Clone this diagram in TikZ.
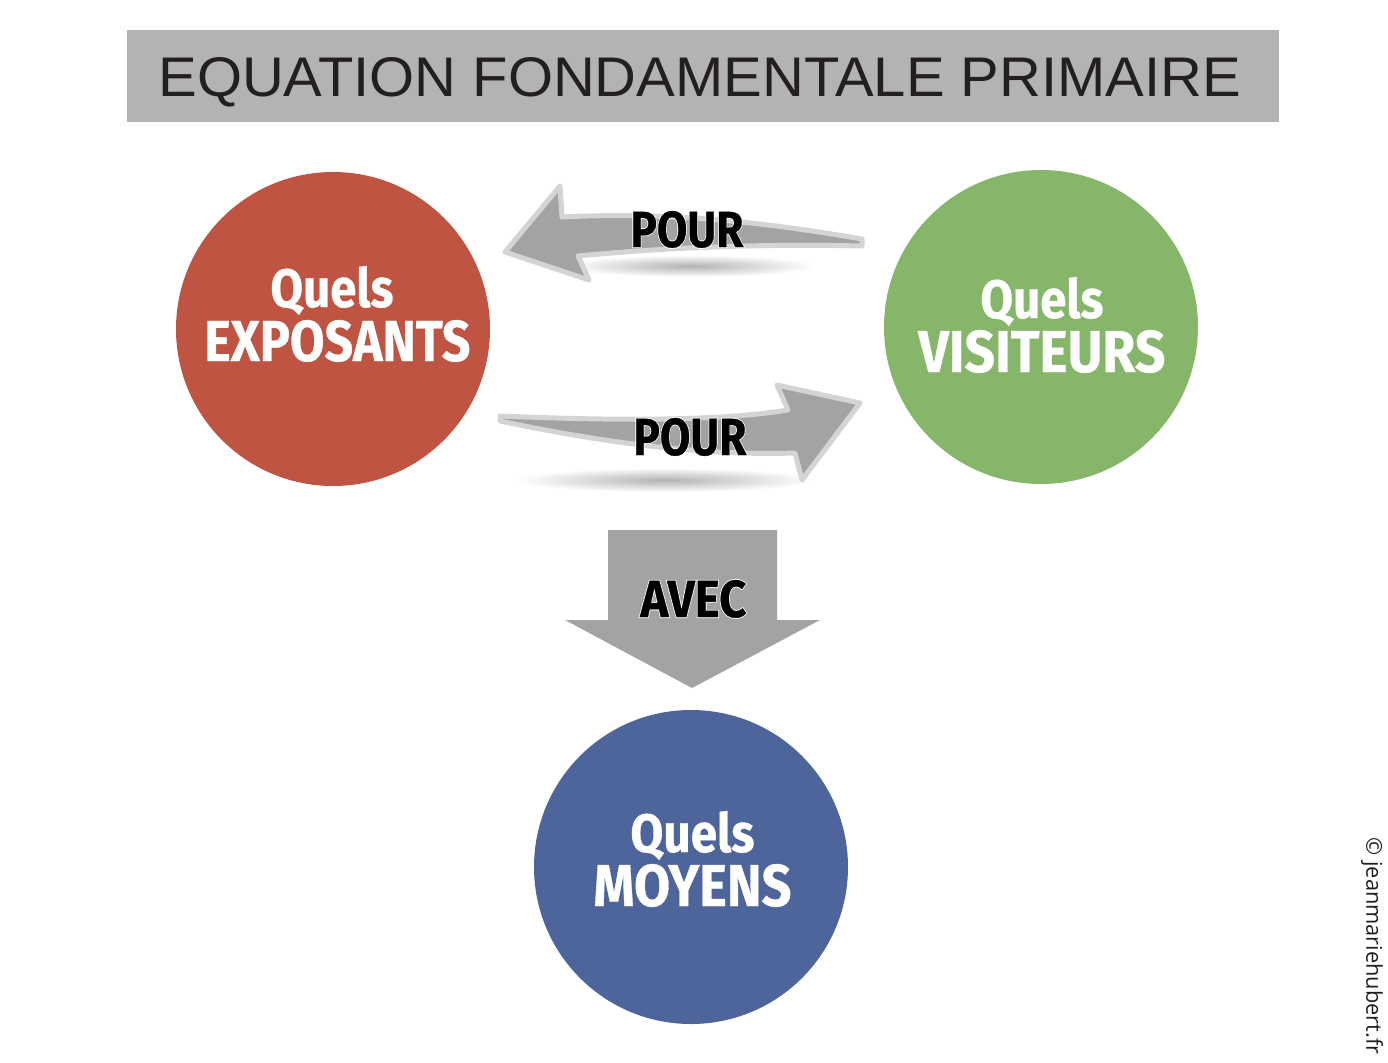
\documentclass[tikz,border=0pt]{standalone}
\usepackage{fontspec}
\setmainfont{Fira Sans}
\newfontfamily\titlefont{Liberation Sans}
\newfontfamily\copyfont{Open Sans}
\newfontfamily\labelfont{Fira Sans Bold}[FakeBold=0.6]
\newfontfamily\haloFont{Fira Sans Bold}[FakeBold=4]
\usepackage{graphicx}
\definecolor{redc}{RGB}{192,84,66}
\definecolor{greenc}{RGB}{133,182,105}
\definecolor{bluec}{RGB}{78,101,155}
\definecolor{titlebg}{RGB}{179,179,179}
\definecolor{arrowfill}{RGB}{163,163,163}
\definecolor{arrowedge}{RGB}{212,212,212}
\definecolor{darktext}{RGB}{35,31,32}
\newcommand{\lbltext}[3]{\resizebox{#1}{#2}{#3}}
\begin{document}
\begin{tikzpicture}[x=0.5pt,y=-0.5pt,
  bubble/.style={circle,minimum size=157pt,inner sep=0pt},
  wtext/.style={inner sep=0pt,anchor=base west,text=white,font=\labelfont},
  ltext/.style={inner sep=0pt,anchor=base west,text=black,font=\labelfont},
  halo/.style={inner sep=0pt,anchor=base west,text=white,font=\haloFont},
  curvearrow/.style={fill=arrowfill,draw=arrowedge,line width=2.5pt,line join=round},
  avecarrow/.style={fill=arrowfill}]
\useasboundingbox (0,0) rectangle (1388,1062);
\fill[white] (0,0) rectangle (1388,1062);
% title
\node[fill=titlebg,minimum width=576pt,minimum height=46pt,inner sep=0pt,anchor=north west] (titlebox) at (127,30) {};
\node[inner sep=0pt,anchor=base west,text=darktext] (title) at (158,96) {\resizebox{541pt}{19.5pt}{\titlefont EQUATION FONDAMENTALE PRIMAIRE}};
% circles
\node[bubble,fill=redc] (expo) at (333,329) {};
\node[bubble,fill=greenc] (visi) at (1041,327) {};
\node[bubble,fill=bluec] (moy) at (691,867) {};
% circle texts
\node[wtext] (q1) at (270,307) {\lbltext{61.5pt}{20.5pt}{Quels}};
\node[wtext] (t1) at (204,361) {\lbltext{133pt}{20.5pt}{EXPOSANTS}};
\node[wtext] (q2) at (980,318) {\lbltext{61.5pt}{20.5pt}{Quels}};
\node[wtext] (t2) at (918,372) {\lbltext{123.5pt}{21pt}{VISITEURS}};
\node[wtext] (q3) at (630,852) {\lbltext{62pt}{20.5pt}{Quels}};
\node[wtext] (t3) at (593,906) {\lbltext{99pt}{21pt}{MOYENS}};
% shadows
\shade[inner color=black!30,outer color=white] (690,266) ellipse (125 and 11);
\shade[inner color=black!30,outer color=white] (665,480) ellipse (150 and 12);
% top arrow (to the left)
\draw[curvearrow] (862,239) .. controls (780,225) and (680,211) .. (562,217)
  -- (560,186) -- (505,252) -- (589,280) -- (578,256)
  .. controls (680,246) and (780,244) .. (862,246) -- cycle;
\node[halo] (pour1h) at (630,247) {\lbltext{56.5pt}{18pt}{POUR}};
\node[ltext] (pour1) at (630,247) {\lbltext{56.5pt}{18pt}{POUR}};
% bottom arrow (to the right)
\draw[curvearrow] (500,416) .. controls (620,421) and (720,421) .. (788,410)
  -- (777,385) -- (860,403) -- (802,480) -- (795,453)
  .. controls (700,456) and (600,442) .. (500,421) -- cycle;
\node[halo] (pour2h) at (633,455) {\lbltext{56.5pt}{18.5pt}{POUR}};
\node[ltext] (pour2) at (633,455) {\lbltext{56.5pt}{18.5pt}{POUR}};
% AVEC arrow
\fill[avecarrow] (608,530) -- (777,530) -- (777,620) -- (820,620) -- (692,688) -- (565,620) -- (608,620) -- cycle;
\node[halo] (avech) at (640,617) {\lbltext{53pt}{18.5pt}{AVEC}};
\node[ltext] (avec) at (640,617) {\lbltext{53pt}{18.5pt}{AVEC}};
% copyright
\node[inner sep=0pt,rotate=-90,anchor=center,text=darktext] (copy) at (1372,946) {\resizebox{108.5pt}{!}{\copyfont \textcopyright\ jeanmariehubert.fr}};
\end{tikzpicture}
\end{document}
